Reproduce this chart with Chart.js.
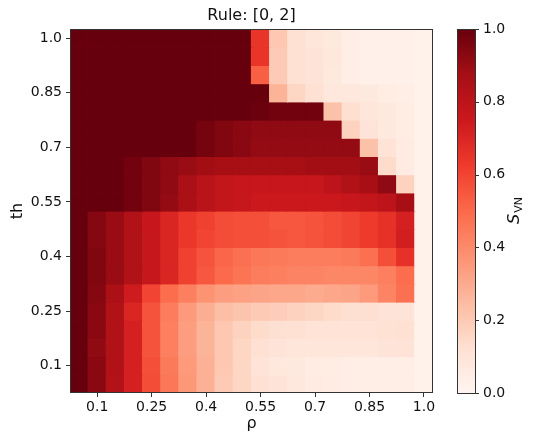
<!DOCTYPE html>
<html>
<head>
<meta charset="utf-8">
<script src="https://cdn.jsdelivr.net/npm/chart.js@4.4.0/dist/chart.umd.min.js"></script>
<style>
  html, body { margin: 0; padding: 0; background: #fff; }
  canvas { display: block; }
</style>
</head>
<body>
<canvas id="heatmap" width="534" height="435"></canvas>
<script>
// rho on x (left to right), th on y (top row first)
const rhoValues = [0.05, 0.1, 0.15, 0.2, 0.25, 0.3, 0.35, 0.4, 0.45, 0.5,
  0.55, 0.6, 0.65, 0.7, 0.75, 0.8, 0.85, 0.9, 0.95, 1.0];
const thValues = [1.0, 0.95, 0.9, 0.85, 0.8, 0.75, 0.7, 0.65, 0.6, 0.55,
  0.5, 0.45, 0.4, 0.35, 0.3, 0.25, 0.2, 0.15, 0.1, 0.05];
const axisTicks = [0.1, 0.25, 0.4, 0.55, 0.7, 0.85, 1.0];
const axisTickLabels = ["0.1", "0.25", "0.4", "0.55", "0.7", "0.85", "1.0"];
const colorbarTicks = [0, 0.2, 0.4, 0.6, 0.8, 1.0];
const colorbarTickLabels = ["0.0", "0.2", "0.4", "0.6", "0.8", "1.0"];

// S_VN per cell, one row per th value
const entropy = [
  [1, 1, 1, 1, 1, 1, 1, 1, 1, 1, 0.65, 0.21, 0.12, 0.09, 0.07, 0.04, 0.03, 0.03, 0.03, 0.02],
  [1, 1, 1, 1, 1, 1, 1, 1, 1, 1, 0.65, 0.2, 0.12, 0.1, 0.08, 0.04, 0.03, 0.03, 0.03, 0.02],
  [1, 1, 1, 1, 1, 1, 1, 1, 1, 1, 0.53, 0.2, 0.12, 0.1, 0.07, 0.04, 0.03, 0.03, 0.03, 0.02],
  [1, 1, 1, 1, 1, 1, 1, 1, 1, 1, 1, 0.27, 0.16, 0.12, 0.08, 0.08, 0.07, 0.05, 0.04, 0.02],
  [1, 1, 1, 1, 1, 1, 1, 1, 1, 1, 0.99, 0.98, 0.98, 0.98, 0.23, 0.13, 0.09, 0.07, 0.05, 0.02],
  [1, 1, 1, 1, 1, 1, 1, 0.97, 0.95, 0.93, 0.92, 0.92, 0.92, 0.92, 0.92, 0.17, 0.1, 0.07, 0.05, 0.02],
  [1, 1, 1, 1, 1, 1, 1, 0.97, 0.95, 0.93, 0.91, 0.91, 0.91, 0.91, 0.91, 0.91, 0.23, 0.11, 0.06, 0.02],
  [1, 1, 1, 0.98, 0.95, 0.92, 0.9, 0.88, 0.87, 0.87, 0.87, 0.87, 0.87, 0.88, 0.88, 0.88, 0.9, 0.14, 0.06, 0.02],
  [1, 1, 1, 0.98, 0.95, 0.92, 0.86, 0.81, 0.78, 0.77, 0.76, 0.76, 0.76, 0.77, 0.8, 0.84, 0.87, 0.92, 0.17, 0.02],
  [1, 1, 1, 0.98, 0.95, 0.91, 0.86, 0.81, 0.78, 0.77, 0.75, 0.75, 0.75, 0.75, 0.75, 0.76, 0.78, 0.8, 0.87, 0.02],
  [1, 0.94, 0.9, 0.84, 0.76, 0.7, 0.64, 0.61, 0.58, 0.57, 0.57, 0.55, 0.55, 0.56, 0.58, 0.6, 0.63, 0.66, 0.72, 0.02],
  [1, 0.94, 0.9, 0.84, 0.77, 0.7, 0.64, 0.6, 0.58, 0.57, 0.57, 0.56, 0.55, 0.56, 0.58, 0.6, 0.63, 0.66, 0.73, 0.02],
  [1, 0.95, 0.9, 0.84, 0.77, 0.7, 0.61, 0.56, 0.51, 0.48, 0.46, 0.45, 0.44, 0.44, 0.44, 0.45, 0.48, 0.57, 0.66, 0.02],
  [1, 0.95, 0.9, 0.84, 0.77, 0.7, 0.61, 0.55, 0.5, 0.47, 0.44, 0.43, 0.42, 0.42, 0.41, 0.41, 0.41, 0.43, 0.49, 0.02],
  [1, 0.94, 0.86, 0.74, 0.6, 0.49, 0.43, 0.37, 0.34, 0.33, 0.32, 0.31, 0.31, 0.3, 0.31, 0.32, 0.35, 0.42, 0.48, 0.02],
  [1, 0.93, 0.84, 0.7, 0.56, 0.44, 0.35, 0.29, 0.24, 0.22, 0.2, 0.19, 0.17, 0.16, 0.14, 0.125, 0.125, 0.1, 0.1, 0.02],
  [1, 0.93, 0.84, 0.72, 0.56, 0.43, 0.34, 0.27, 0.21, 0.17, 0.14, 0.125, 0.12, 0.11, 0.11, 0.11, 0.11, 0.115, 0.12, 0.02],
  [1, 0.92, 0.84, 0.72, 0.56, 0.43, 0.34, 0.27, 0.21, 0.16, 0.12, 0.1, 0.09, 0.09, 0.09, 0.09, 0.09, 0.1, 0.11, 0.02],
  [1, 0.93, 0.84, 0.72, 0.57, 0.45, 0.35, 0.28, 0.21, 0.16, 0.1, 0.08, 0.07, 0.05, 0.05, 0.04, 0.04, 0.04, 0.04, 0.02],
  [1, 0.93, 0.83, 0.72, 0.58, 0.46, 0.36, 0.28, 0.2, 0.16, 0.12, 0.1, 0.08, 0.06, 0.05, 0.04, 0.04, 0.04, 0.04, 0.02],
];

// matplotlib "Reds"
const redsStops = ["#fff5f0", "#fee0d2", "#fcbba1", "#fc9272", "#fb6a4a",
  "#ef3b2c", "#cb181d", "#a50f15", "#67000d"];

const hexToRgb = (h) => [1, 3, 5].map((i) => parseInt(h.slice(i, i + 2), 16));

const redsColor = (v) => {
  const t = Math.min(Math.max(v, 0), 1) * (redsStops.length - 1);
  const i = Math.min(Math.floor(t), redsStops.length - 2);
  const f = t - i;
  const a = hexToRgb(redsStops[i]);
  const b = hexToRgb(redsStops[i + 1]);
  const c = a.map((x, k) => Math.round(x + (b[k] - x) * f));
  return "rgb(" + c.join(",") + ")";
};

const half = 0.025;
const font = "'DejaVu Sans', sans-serif";
const ink = "#111";

const datasets = thValues.map((th, i) => ({
  label: "th " + th,
  data: rhoValues.map((rho) => ({ x: rho, y: [th - half, th + half] })),
  backgroundColor: entropy[i].map(redsColor),
  borderWidth: 0,
  inflateAmount: 0.6,
  grouped: false,
  barPercentage: 1,
  categoryPercentage: 1,
}));

const colorbarPlugin = {
  id: "colorbar",
  afterDraw(chart) {
    const ctx = chart.ctx;
    const area = chart.chartArea;
    const cb = chart.scales.cb;
    const top = cb.getPixelForValue(1);
    const bottom = cb.getPixelForValue(0);
    const x0 = area.right + 24;
    const w = 18;

    ctx.save();
    // title, centred over the plot area
    ctx.fillStyle = ink;
    ctx.textAlign = "center";
    ctx.textBaseline = "middle";
    ctx.font = "16px " + font;
    ctx.fillText("Rule: [0, 2]", (area.left + area.right) / 2, 16);

    const grad = ctx.createLinearGradient(0, bottom, 0, top);
    redsStops.forEach((c, i) => grad.addColorStop(i / (redsStops.length - 1), c));
    ctx.fillStyle = grad;
    ctx.fillRect(x0, top, w, bottom - top);
    ctx.strokeStyle = "#333";
    ctx.lineWidth = 1;
    ctx.strokeRect(x0 + 0.5, Math.round(top) + 0.5, w, Math.round(bottom - top));

    ctx.beginPath();
    colorbarTicks.forEach((v) => {
      const y = Math.round(cb.getPixelForValue(v)) + 0.5;
      ctx.moveTo(x0 + w, y);
      ctx.lineTo(x0 + w + 4, y);
    });
    ctx.stroke();

    // plot frame
    ctx.strokeRect(Math.round(area.left) + 0.5, Math.round(area.top) + 0.5,
      Math.round(area.right - area.left) - 1, Math.round(area.bottom - area.top) - 1);

    // colorbar label S_VN
    ctx.translate(515, (top + bottom) / 2);
    ctx.rotate(-Math.PI / 2);
    ctx.fillStyle = ink;
    ctx.textAlign = "left";
    ctx.font = "italic 16px " + font;
    const wS = ctx.measureText("S").width;
    ctx.font = "11px " + font;
    const wSub = ctx.measureText("VN").width;
    const start = -(wS + wSub) / 2;
    ctx.font = "italic 16px " + font;
    ctx.fillText("S", start, 0);
    ctx.font = "11px " + font;
    ctx.fillText("VN", start + wS + 1, 4);
    ctx.restore();
  },
};

const heatmap = new Chart(document.getElementById("heatmap"), {
  type: "bar",
  data: { datasets: datasets },
  options: {
    responsive: false,
    animation: false,
    layout: { padding: { top: 29, left: 0, right: 0, bottom: 0 } },
    plugins: {
      legend: { display: false },
      tooltip: { enabled: false },
      title: { display: false },
    },
    scales: {
      x: {
        type: "linear",
        min: rhoValues[0] - half,
        max: rhoValues[rhoValues.length - 1] + half,
        offset: false,
        afterBuildTicks: (scale) => {
          scale.ticks = axisTicks.map((v) => ({ value: v }));
        },
        afterFit: (scale) => {
          scale.height = 42;
        },
        ticks: {
          autoSkip: false,
          maxRotation: 0,
          padding: 2,
          color: ink,
          font: { family: font, size: 14 },
          callback: (v, i) => axisTickLabels[i],
        },
        grid: {
          offset: false,
          drawOnChartArea: false,
          tickLength: 4,
          color: "#333",
        },
        border: { display: false },
        title: {
          display: true,
          text: "ρ",
          color: ink,
          font: { family: font, size: 16 },
          padding: { top: 0, bottom: 2 },
        },
      },
      y: {
        type: "linear",
        min: thValues[thValues.length - 1] - half,
        max: thValues[0] + half,
        afterBuildTicks: (scale) => {
          scale.ticks = axisTicks.map((v) => ({ value: v }));
        },
        afterFit: (scale) => {
          scale.width = 70;
        },
        ticks: {
          autoSkip: false,
          padding: 4,
          color: ink,
          font: { family: font, size: 14 },
          callback: (v, i) => axisTickLabels[i],
        },
        grid: {
          offset: false,
          drawOnChartArea: false,
          tickLength: 4,
          color: "#333",
        },
        border: { display: false },
        title: {
          display: true,
          text: "th",
          color: ink,
          font: { family: font, size: 16 },
          padding: { top: 8, bottom: 0 },
        },
      },
      cb: {
        type: "linear",
        position: "right",
        min: 0,
        max: 1,
        afterBuildTicks: (scale) => {
          scale.ticks = colorbarTicks.map((v) => ({ value: v }));
        },
        afterFit: (scale) => {
          scale.width = 101;
        },
        ticks: {
          padding: 4,
          color: ink,
          font: { family: font, size: 14 },
          callback: (v, i) => colorbarTickLabels[i],
        },
        // long invisible tick marks push the labels past the colour bar
        grid: {
          drawOnChartArea: false,
          drawTicks: true,
          tickLength: 46,
          tickColor: "rgba(0,0,0,0)",
        },
        border: { display: false },
      },
    },
  },
  plugins: [colorbarPlugin],
});
</script>
</body>
</html>
